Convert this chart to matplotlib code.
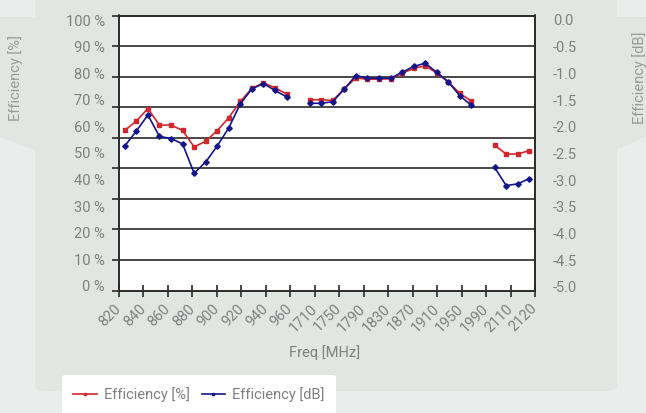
import numpy as np
import matplotlib
matplotlib.use("Agg")
import matplotlib.pyplot as plt
from matplotlib.patches import FancyBboxPatch, Polygon
from matplotlib.lines import Line2D

plt.rcParams['font.family'] = ['Roboto', 'DejaVu Sans']

nan = np.nan
freq_labels = ['820', '840', '860', '880', '900', '920', '940', '960', '1710', '1750',
               '1790', '1830', '1870', '1910', '1950', '1990', '2110', '2120']
eff_pct = [58.5, 62.0, 66.7, 60.5, 60.5, 58.5, 52.3, 54.4, 58.4, 63.3, 69.4, 74.3, 76.4, 74.5, 72.2,
           nan,
           70.0, 70.0, 69.8, 74.1, 78.3, 77.7, 77.8, 77.9, 80.0, 81.8, 82.8, 80.1, 76.7, 72.4, 69.5,
           nan,
           53.0, 49.6, 49.6, 50.9]
eff_db = [-2.36, -2.08, -1.78, -2.18, -2.22, -2.32, -2.87, -2.66, -2.36, -2.02, -1.57, -1.29, -1.19, -1.32, -1.44,
          nan,
          -1.56, -1.56, -1.53, -1.29, -1.04, -1.09, -1.09, -1.09, -0.98, -0.87, -0.81, -0.98, -1.16, -1.42, -1.60,
          nan,
          -2.76, -3.10, -3.07, -2.97]
pct_ticks = [0, 10, 20, 30, 40, 50, 60, 70, 80, 90, 100]
pct_labels = ['%d %%' % v for v in pct_ticks]
db_ticks = [0.0, -0.5, -1.0, -1.5, -2.0, -2.5, -3.0, -3.5, -4.0, -4.5, -5.0]
db_labels = ['%.1f' % v for v in db_ticks]

W, H = 646, 413
fig = plt.figure(figsize=(W / 100, H / 100), dpi=100)
fig.patch.set_facecolor('#ebecec')

def fx(x):
    return x / W

def fy(y):
    return 1 - y / H

panel_col = '#e1e6e3'
# side wings
fig.patches.append(Polygon([(fx(0), fy(17)), (fx(40), fy(17)), (fx(40), fy(152)), (fx(0), fy(137))],
                           closed=True, transform=fig.transFigure, facecolor=panel_col, edgecolor='none', zorder=-3))
fig.patches.append(Polygon([(fx(646), fy(17)), (fx(610), fy(17)), (fx(610), fy(152)), (fx(646), fy(137))],
                           closed=True, transform=fig.transFigure, facecolor=panel_col, edgecolor='none', zorder=-3))
# main panel
fig.patches.append(FancyBboxPatch((fx(35), fy(391)), fx(582), (391 + 20) / H,
                                  boxstyle="round,pad=0,rounding_size=0.015",
                                  transform=fig.transFigure, facecolor=panel_col, edgecolor='none', zorder=-2))
# legend box
fig.patches.append(FancyBboxPatch((fx(62), fy(425)), fx(274), 50 / H,
                                  boxstyle="round,pad=0,rounding_size=0.006",
                                  transform=fig.transFigure, facecolor='white', edgecolor='none', zorder=-1))

ax = fig.add_axes([fx(119), fy(290.5), fx(416), 275 / H])
ax.set_facecolor('white')
x = np.arange(len(eff_pct))

red = '#d3262d'
blue = '#15158a'
tick_col = '#808080'
side_col = '#9a9a9a'
dark = '#2a2a2a'
fs = 10.5

ax.set_xlim(-0.5, len(eff_pct) - 0.5)
ymin, ymax = -1.7, 101.7
ax.set_ylim(ymin, ymax)
grid_vals = np.linspace(ymin, ymax, 10)
for g in grid_vals[1:-1]:
    ax.axhline(g, color=dark, lw=1.2, zorder=1)
ax.set_yticks(grid_vals)
ax.set_yticklabels([''] * len(grid_vals))
ax.tick_params(axis='y', which='major', length=5, width=1.2, color=dark, direction='out')
ax.set_yticks(pct_ticks, minor=True)
ax.set_yticklabels(pct_labels, minor=True)
ax.tick_params(axis='y', which='minor', length=0, pad=10, labelsize=fs, labelcolor=tick_col)

ax.plot(x, eff_pct, color=red, lw=1.2, marker='s', markersize=2.2, zorder=3)

xt = np.linspace(-0.5, len(eff_pct) - 0.5, len(freq_labels))
ax.set_xticks(xt)
ax.set_xticklabels(freq_labels, rotation=45, ha='right', va='center', rotation_mode='anchor')
ax.tick_params(axis='x', length=9, width=1.2, color=dark, direction='inout', pad=7,
               labelsize=fs, labelcolor=tick_col)
for s in ax.spines.values():
    s.set_color(dark)
    s.set_linewidth(1.2)

ax2 = ax.twinx()
ax2.set_ylim(-5.066, 0.084)
ax2.set_yticks(db_ticks)
ax2.set_yticklabels(db_labels)
ax2.tick_params(axis='y', length=0, pad=13, labelsize=fs, labelcolor=tick_col)
ax2.plot(x, eff_db, color=blue, lw=1.2, marker='D', markersize=2.8, zorder=3)
for s in ax2.spines.values():
    s.set_color(dark)
    s.set_linewidth(1.2)

fig.text(fx(325), fy(353), 'Freq [MHz]', ha='center', va='center', fontsize=fs, color=tick_col)
fig.text(fx(16), fy(78), 'Efficiency [%]', ha='center', va='center', rotation=90, fontsize=fs, color=side_col)
fig.text(fx(640), fy(78), 'Efficiency [dB]', ha='center', va='center', rotation=90, fontsize=fs, color=side_col)

handles = [Line2D([], [], color=red, lw=1.2, marker='s', markersize=2.0),
           Line2D([], [], color=blue, lw=1.2, marker='s', markersize=2.0)]
leg = fig.legend(handles, ['Efficiency [%]', 'Efficiency [dB]'], loc='center',
                 bbox_to_anchor=(fx(199), fy(395)), ncol=2, frameon=False,
                 fontsize=fs, handlelength=1.6, handletextpad=0.5, columnspacing=0.8)
for t in leg.get_texts():
    t.set_color(tick_col)
leg.set_zorder(5)

fig.savefig('out.png', dpi=100, facecolor=fig.get_facecolor())
